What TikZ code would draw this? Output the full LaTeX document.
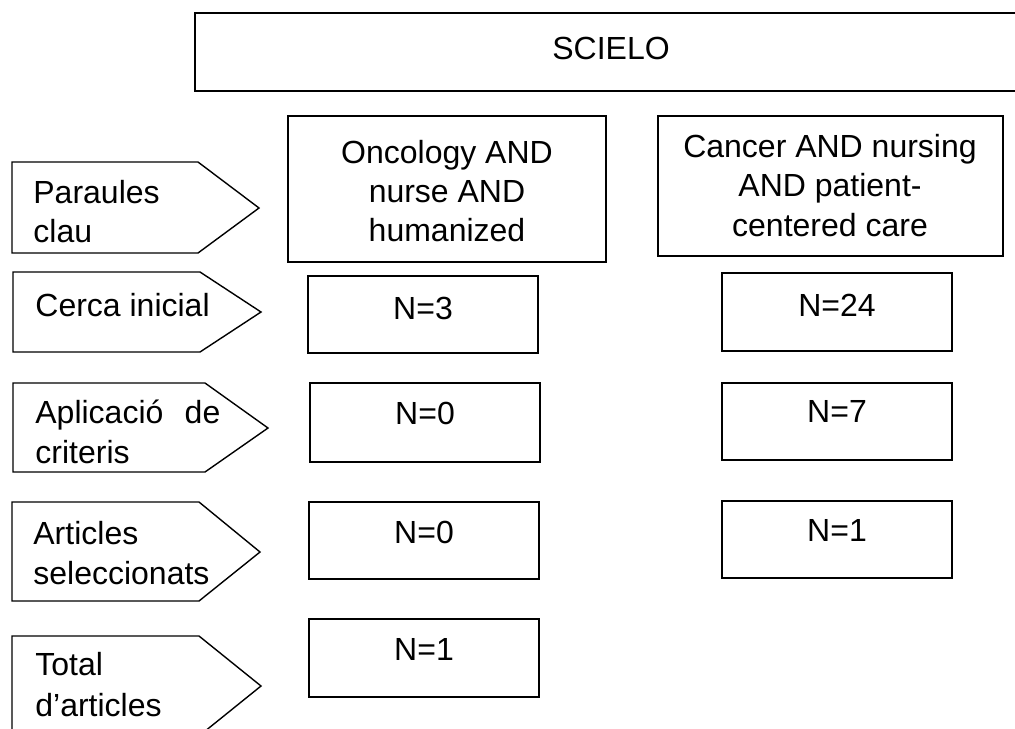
\documentclass[tikz,border=0pt]{standalone}
\usepackage{fontspec}
\setmainfont{Liberation Sans}
\begin{document}
\begin{tikzpicture}[x=0.5pt,y=-0.5pt,
  shp/.style={draw=black,line width=0.7pt,fill=white},
  txt/.style={inner sep=0pt,font=\fontsize{16pt}{20pt}\selectfont},
  lbl/.style={txt,anchor=base west},
  ctr/.style={txt,anchor=base}]
\useasboundingbox (0,0) rectangle (1015,728);
\clip (0,0) rectangle (1015,728);
% SCIELO
\draw[shp] (195,13) rectangle (1040,91);
\node[ctr] (scielo) at (611,59) {SCIELO};
% search strings
\draw[shp] (288,116) rectangle (606,262);
\node[ctr] (onc1) at (447,163) {Oncology AND};
\node[ctr] (onc2) at (447,202) {nurse AND};
\node[ctr] (onc3) at (447,241) {humanized};
\draw[shp] (658,116) rectangle (1003,256);
\node[ctr] (can1) at (830,157) {Cancer AND nursing};
\node[ctr] (can2) at (830,196) {AND patient-};
\node[ctr] (can3) at (830,236) {centered care};
% left arrows
\draw[shp] (12,162) -- (198,162) -- (259,208) -- (198,253) -- (12,253) -- cycle;
\node[lbl] (par1) at (33,203) {Paraules};
\node[lbl] (par2) at (33,242) {clau};
\draw[shp] (13,272) -- (200,272) -- (261,312) -- (200,352) -- (13,352) -- cycle;
\node[lbl] (cer) at (35,316) {Cerca inicial};
\draw[shp] (13,383) -- (205,383) -- (268,428) -- (205,472) -- (13,472) -- cycle;
\node[lbl] (apl1) at (35,423) {\hbox to 92.5pt{Aplicació\hfill de}};
\node[lbl] (apl2) at (35,463) {criteris};
\draw[shp] (12,502) -- (199,502) -- (260,552) -- (199,601) -- (12,601) -- cycle;
\node[lbl] (art1) at (33,544) {Articles};
\node[lbl] (art2) at (33,584) {seleccionats};
\draw[shp] (12,636) -- (199,636) -- (261,686) -- (199,736) -- (12,736) -- cycle;
\node[lbl] (tot1) at (35,675) {Total};
\node[lbl] (tot2) at (35,716) {d’articles};
% counts, left column
\draw[shp] (308,276) rectangle (538,353);
\node[ctr] (n3) at (423,319) {N=3};
\draw[shp] (310,383) rectangle (540,462);
\node[ctr] (n0a) at (425,424) {N=0};
\draw[shp] (309,502) rectangle (539,579);
\node[ctr] (n0b) at (424,543) {N=0};
\draw[shp] (309,619) rectangle (539,697);
\node[ctr] (n1) at (424,660) {N=1};
% counts, right column
\draw[shp] (722,273) rectangle (952,351);
\node[ctr] (n24) at (837,316) {N=24};
\draw[shp] (722,383) rectangle (952,460);
\node[ctr] (n7) at (837,422) {N=7};
\draw[shp] (722,501) rectangle (952,578);
\node[ctr] (n1r) at (837,541) {N=1};
\end{tikzpicture}
\end{document}
